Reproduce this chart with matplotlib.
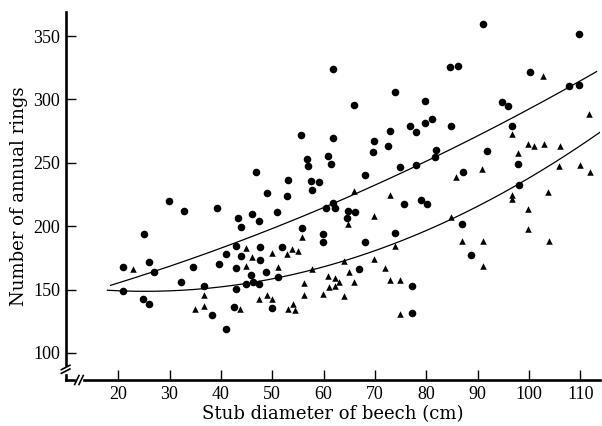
import numpy as np
import matplotlib
matplotlib.use("Agg")
import matplotlib.pyplot as plt

# --- data ---
circle_x = [29.8, 32.9, 39.2, 43.4, 46.0, 44.0, 47.5, 25.0, 26.0, 27.0, 20.9, 20.9, 24.8, 25.9,
            32.3, 34.6, 36.8, 38.3, 39.7, 40.9, 40.9, 42.9, 43.9, 43.0, 42.9, 45.9, 44.8, 46.2,
            47.5, 42.6, 47.6, 47.6,
            57.7, 48.9, 52.9, 51.0, 55.9, 59.8, 59.9, 60.5, 61.8, 62.2, 64.7, 66.2, 64.6, 75.7,
            78.9, 80.1, 73.9, 68.1, 52.0, 48.8, 51.2, 67.0, 49.9, 77.2, 77.2,
            61.8, 65.9, 74.0, 79.8, 84.7, 86.1, 55.6, 61.9, 46.9, 56.7, 56.9, 60.8, 61.5, 69.9,
            69.7, 72.5, 73.0, 76.9, 78.0, 79.8, 81.2, 84.8, 68.0, 74.9, 78.0, 81.9, 81.7, 53.1,
            57.6, 59.1,
            91.0, 109.8, 100.2, 107.9, 109.8, 94.7, 96.0, 96.8, 91.9, 97.8, 87.1, 98.1,
            87.0, 88.8]
circle_y = [220.1, 212.2, 214.0, 206.7, 209.6, 199.6, 204.3, 194.1, 172.0, 164.1, 167.6, 148.9, 142.3, 138.6,
            156.0, 167.6, 153.1, 130.2, 170.2, 178.1, 118.9, 184.4, 176.2, 166.8, 150.5, 161.8, 154.7, 156.2,
            154.4, 136.0, 173.3, 183.8,
            228.5, 226.0, 224.1, 211.5, 198.4, 193.8, 187.8, 214.1, 218.5, 214.1, 212.0, 211.2, 206.2, 217.3,
            220.7, 217.3, 194.4, 187.8, 183.8, 163.6, 159.7, 166.2, 135.2, 152.8, 131.3,
            324.0, 295.6, 305.6, 299.0, 325.8, 326.6, 271.9, 269.3, 242.7, 253.0, 247.7, 255.1, 249.1, 267.0,
            258.3, 263.5, 274.8, 279.3, 274.5, 281.1, 284.5, 279.0, 240.1, 246.7, 248.5, 260.1, 254.6, 236.4,
            235.4, 234.6,
            359.2, 351.3, 321.6, 310.6, 311.1, 297.7, 294.8, 279.0, 259.3, 248.8, 243.0, 232.3,
            201.7, 177.5]

tri_x = [22.9, 44.8, 46.0, 44.8, 36.8, 34.9, 36.8, 43.7, 47.5,
         66.0, 73.0, 69.8, 64.8, 55.9, 49.9, 53.8, 55.0, 52.9, 51.1, 63.9, 57.8, 69.9, 73.9, 71.9,
         64.9, 56.1, 60.9, 62.2, 63.1, 66.0, 61.0, 62.3, 73.0, 74.9, 56.1, 59.8, 63.9, 48.9, 49.9,
         53.0, 54.1, 54.4, 74.9,
         102.8, 111.7, 96.7, 99.9, 101.0, 103.0, 106.0, 97.9, 90.8, 85.8, 105.8, 109.9, 112.0, 103.8,
         96.8, 96.8, 99.9, 99.9, 104.0, 84.9, 86.9, 91.0, 91.0]
tri_y = [166.0, 183.0, 176.0, 168.6, 145.5, 134.9, 137.0, 134.5, 142.6,
         227.8, 224.6, 208.3, 201.5, 191.7, 178.6, 182.0, 180.4, 178.1, 167.6, 172.6, 166.0, 174.1, 184.4, 167.3,
         164.1, 155.4, 160.7, 159.4, 156.2, 156.2, 151.8, 152.8, 157.6, 157.6, 146.0, 146.3, 144.7, 145.7, 142.8,
         135.0, 138.6, 134.0, 130.8,
         318.7, 288.2, 273.0, 265.1, 263.3, 264.8, 263.0, 258.0, 244.9, 238.6, 247.2, 248.5, 242.5, 226.7,
         224.6, 221.2, 213.6, 198.0, 188.3, 207.3, 188.1, 188.6, 168.4]

upper_curve_x = [18.5, 45.7, 60.6, 69.0, 84.7, 96.3, 107.9, 113.2]
upper_curve_y = [153.4, 190.5, 215.4, 233.0, 261.0, 281.1, 310.0, 323.2]
lower_curve_x = [17.9, 36.8, 45.7, 57.8, 63.9, 69.0, 73.9, 86.0, 98.0, 108.4, 113.9]
lower_curve_y = [147.1, 152.8, 157.6, 166.8, 173.3, 179.1, 184.4, 204.9, 231.7, 260.1, 275.9]

x_ticks = [20, 30, 40, 50, 60, 70, 80, 90, 100, 110]
y_ticks = [100, 150, 200, 250, 300, 350]

x_label = "Stub diameter of beech (cm)"
y_label = "Number of annual rings"

# --- figure ---
fig = plt.figure(figsize=(6.02, 4.26), dpi=100)
ax = fig.add_axes([0.109, 0.108, 0.888, 0.864])

ax.scatter(circle_x, circle_y, s=30, marker='o', color='black', linewidths=0, zorder=3)
ax.scatter(tri_x, tri_y, s=22, marker='^', color='black', linewidths=0, zorder=3)

for cx, cy in ((upper_curve_x, upper_curve_y), (lower_curve_x, lower_curve_y)):
    coef = np.polyfit(cx, cy, 2)
    xs = np.linspace(min(cx), max(cx), 200)
    ax.plot(xs, np.polyval(coef, xs), color='black', lw=0.9, zorder=2)

ax.set_xlim(9.75, 113.9)
ax.set_ylim(78.7, 369)

for s in ('top', 'right'):
    ax.spines[s].set_visible(False)
for s in ('left', 'bottom'):
    ax.spines[s].set_linewidth(1.9)

ax.set_xticks(x_ticks)
ax.set_yticks(y_ticks)
ax.tick_params(direction='in', length=7, width=1.0, pad=4, labelsize=13)
for lab in ax.get_xticklabels() + ax.get_yticklabels():
    lab.set_fontfamily('Liberation Serif')

ax.set_xlabel(x_label, fontsize=13, family='DejaVu Serif', labelpad=2)
ax.set_ylabel(y_label, fontsize=13, family='DejaVu Serif', labelpad=4)

# axis break marks
tr = ax.transAxes
ax.plot([0.0], [0.027], marker='s', ms=4, color='white', transform=tr, clip_on=False, zorder=5)
ax.plot([-0.008, 0.008], [0.018, 0.030], color='black', lw=1.2, transform=tr, clip_on=False, zorder=6)
ax.plot([-0.008, 0.008], [0.028, 0.040], color='black', lw=1.2, transform=tr, clip_on=False, zorder=6)
ax.plot([0.025], [0.0], marker='s', ms=4, color='white', transform=tr, clip_on=False, zorder=5)
ax.plot([0.017, 0.025], [-0.012, 0.012], color='black', lw=1.2, transform=tr, clip_on=False, zorder=6)
ax.plot([0.025, 0.033], [-0.012, 0.012], color='black', lw=1.2, transform=tr, clip_on=False, zorder=6)

fig.savefig('out.png', dpi=100)
